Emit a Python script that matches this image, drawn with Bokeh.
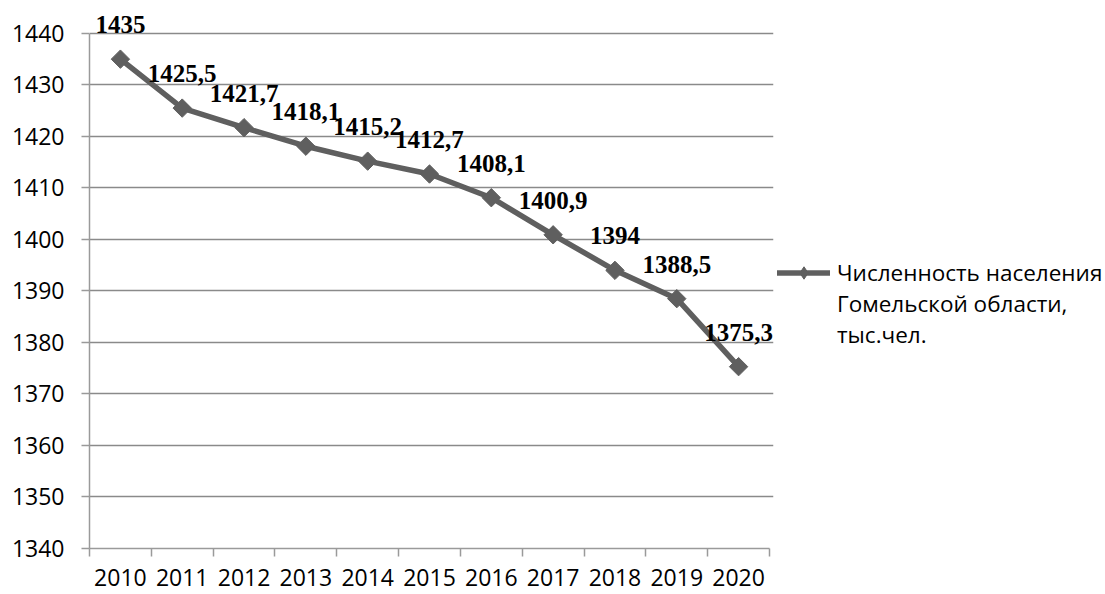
import math
from bokeh.plotting import figure
from bokeh.models import (ColumnDataSource, FixedTicker, LabelSet, Legend,
                          LegendItem, Range1d)
from bokeh.embed import file_html
from bokeh.resources import INLINE

years = ["2010", "2011", "2012", "2013", "2014", "2015", "2016", "2017",
         "2018", "2019", "2020"]
population = [1435, 1425.5, 1421.7, 1418.1, 1415.2, 1412.7, 1408.1, 1400.9,
              1394, 1388.5, 1375.3]
value_labels = ["1435", "1425,5", "1421,7", "1418,1", "1415,2", "1412,7",
                "1408,1", "1400,9", "1394", "1388,5", "1375,3"]
y_ticks = [1340, 1350, 1360, 1370, 1380, 1390, 1400, 1410, 1420, 1430, 1440]
series_name_lines = ["Численность населения", "Гомельской области,", "тыс.чел."]

idx = list(range(len(years)))
src = ColumnDataSource(dict(x=idx, y=population, lab=value_labels))

LINE = "#5f5f5f"
GRID = "#8a8a8a"
AXIS = "#9a9a9a"
FONT = "Open Sans"

# category slot ~61.8 px; a few px of extra room on the right so the last
# data label is not clipped by the frame
p = figure(frame_width=684, frame_height=546, output_backend="svg",
           toolbar_location=None,
           x_range=Range1d(-0.5, len(years) - 0.5 + 4 / 61.8),
           y_range=Range1d(y_ticks[0], 1446),
           min_border_left=89, min_border_top=2, min_border_right=0,
           min_border_bottom=44, outline_line_color=None)

p.xgrid.grid_line_color = None
p.ygrid.grid_line_color = GRID
p.ygrid.grid_line_width = 1.5
p.ygrid.ticker = FixedTicker(ticks=y_ticks)

xa = p.xaxis[0]
xa.ticker = FixedTicker(ticks=idx, minor_ticks=[i - 0.5 for i in range(len(years) + 1)])
xa.bounds = (-0.5, len(years) - 0.5)
xa.major_label_overrides = {i: y for i, y in enumerate(years)}
xa.major_tick_out = 0
xa.major_tick_in = 0
xa.minor_tick_out = 8
xa.minor_tick_in = 0
xa.minor_tick_line_color = AXIS
xa.minor_tick_line_width = 1.5
xa.axis_line_color = AXIS
xa.axis_line_width = 1.5
xa.major_label_standoff = 12
xa.major_label_text_font = FONT
xa.major_label_text_font_size = "23px"
xa.major_label_text_color = "#000000"

ya = p.yaxis[0]
ya.ticker = FixedTicker(ticks=y_ticks)
ya.bounds = (y_ticks[0], y_ticks[-1])
ya.minor_tick_line_color = None
ya.major_tick_out = 8
ya.major_tick_in = 0
ya.major_tick_line_color = AXIS
ya.major_tick_line_width = 1.5
ya.axis_line_color = AXIS
ya.axis_line_width = 1.5
ya.major_label_standoff = 17
ya.major_label_text_font = FONT
ya.major_label_text_font_size = "23px"
ya.major_label_text_color = "#000000"

line_r = p.line("x", "y", source=src, line_color=LINE, line_width=5.5,
                line_cap="round", line_join="round")
# diamond version of the markers (hidden under the rotated squares) used as
# the legend glyph
legend_mark = p.scatter("x", "y", source=src, marker="diamond", size=14,
                        fill_color=LINE, line_color=LINE)
mark_r = p.scatter("x", "y", source=src, marker="square", size=13,
                   angle=math.pi / 4, fill_color=LINE, line_color=LINE)

labels = LabelSet(x="x", y="y", text="lab", source=src, text_align="center",
                  text_baseline="alphabetic", y_offset=26,
                  text_font="Liberation Serif", text_font_style="bold",
                  text_font_size="25px", text_color="#000000")
p.add_layout(labels)

items = [LegendItem(label=series_name_lines[0], renderers=[line_r, legend_mark])]
for extra in series_name_lines[1:]:
    items.append(LegendItem(label=extra, renderers=[]))

legend = Legend(items=items, location=(4, 198), padding=0, margin=0,
                border_line_alpha=0, background_fill_alpha=0,
                glyph_width=53, glyph_height=31, label_height=31, spacing=0,
                label_standoff=7,
                label_text_font=FONT, label_text_font_size="22.5px",
                label_text_color="#000000")
p.add_layout(legend, "right")

open("out.html", "w").write(file_html(p, INLINE))
